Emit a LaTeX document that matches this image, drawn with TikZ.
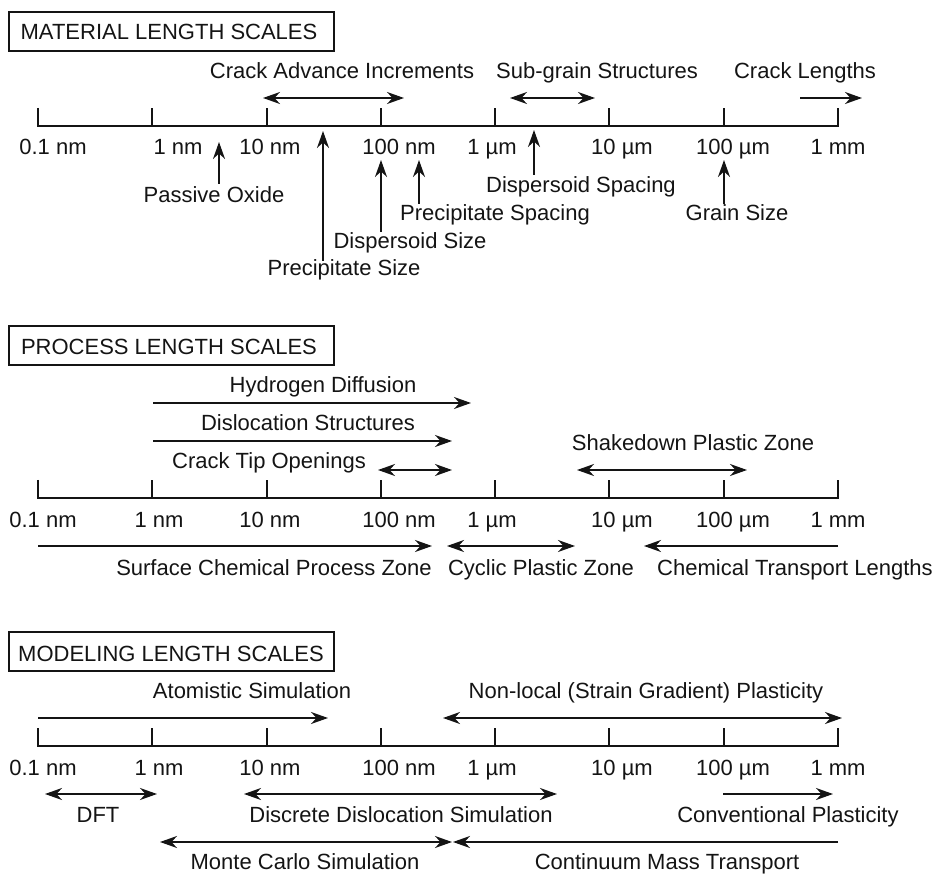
\documentclass[tikz,border=0pt]{standalone}
\usepackage{fontspec}
\setmainfont{Liberation Sans}
\usetikzlibrary{arrows.meta}
\definecolor{ink}{gray}{0.08}
\tikzset{
  lbl/.style={anchor=base, inner sep=0pt, text=ink, font=\fontsize{22}{26}\selectfont},
  titlebox/.style={draw=ink, line width=1.6pt, minimum width=325pt, minimum height=39pt, inner sep=0pt},
  axisline/.style={draw=ink, line width=1.9pt},
  oneway/.style={draw=ink, line width=1.9pt,
    arrows={-Stealth[length=17pt, width=12pt, inset=5.5pt]}},
  twoway/.style={draw=ink, line width=1.9pt,
    arrows={Stealth[length=17pt, width=12pt, inset=5.5pt]-Stealth[length=17pt, width=12pt, inset=5.5pt]}},
}
\begin{document}
\begin{tikzpicture}[x=1pt, y=-1pt]
\useasboundingbox (0,0) rectangle (935,874);

% ---------- section titles ----------
\node[titlebox] (tmat) at (171.5,31.5) {};
\node[lbl] (tmatt) at (169,40) {MATERIAL LENGTH SCALES};
\node[titlebox] (tpro) at (171.5,345.5) {};
\node[lbl] (tprot) at (169,355) {PROCESS LENGTH SCALES};
\node[titlebox] (tmod) at (171.5,651.5) {};
\node[lbl] (tmodt) at (171,661) {MODELING LENGTH SCALES};

% ---------- decade axes ----------
% tick x positions: 0.1 nm ... 1 mm
\def\tickxs{38,152.3,266.6,380.9,495.1,609.4,723.7,838}
\foreach \ay/\ty/\pre in {126/108/a, 498/480/b, 746/728/c}{
  \coordinate (\pre0) at (38,\ay);
  \coordinate (\pre7) at (838,\ay);
  \draw[axisline] (38,\ty) -- (\pre0) -- (\pre7) -- (838,\ty);
  \foreach \tx [count=\i from 0] in \tickxs {
    \coordinate (\pre t\i) at (\tx,\ay);
    \draw[axisline] (\pre t\i) -- (\tx,\ty);
  }
}

% tick labels
\foreach \lx/\txt [count=\i from 0] in {53/0.1 nm,178/1 nm,270/10 nm,399/100 nm,492/1 µm,622/10 µm,733/100 µm,838/1 mm}
  \node[lbl] (la\i) at (\lx,155) {\txt};
\foreach \lx/\txt [count=\i from 0] in {43/0.1 nm,159/1 nm,270/10 nm,399/100 nm,492/1 µm,622/10 µm,733/100 µm,838/1 mm}{
  \node[lbl] (lb\i) at (\lx,527) {\txt};
  \node[lbl] (lc\i) at (\lx,775) {\txt};
}

% ---------- material length scales ----------
\node[lbl] (crackadv) at (342,79) {Crack Advance Increments};
\coordinate (ca1) at (263,98); \coordinate (ca2) at (404,98);
\draw[twoway] (ca1) -- (ca2);

\node[lbl] (subgrain) at (597,79) {Sub-grain Structures};
\coordinate (sg1) at (510,98); \coordinate (sg2) at (595,98);
\draw[twoway] (sg1) -- (sg2);

\node[lbl] (cracklen) at (805,79) {Crack Lengths};
\coordinate (cl1) at (800,98); \coordinate (cl2) at (862,98);
\draw[oneway] (cl1) -- (cl2);

\node[lbl] (passive) at (214,203) {Passive Oxide};
\coordinate (po) at (219,142);
\draw[oneway] (219,184) -- (po);

\node[lbl] (precsize) at (344,276) {Precipitate Size};
\coordinate (ps) at (323,131);
\draw[oneway] (323,261) -- (ps);

\node[lbl] (dispsize) at (410,249) {Dispersoid Size};
\coordinate (ds) at (381,160);
\draw[oneway] (381,232) -- (ds);

\node[lbl] (precspac) at (495,221) {Precipitate Spacing};
\coordinate (pp) at (419,160);
\draw[oneway] (419,204) -- (pp);

\node[lbl] (dispspac) at (581,193) {Dispersoid Spacing};
\coordinate (dp) at (534,130);
\draw[oneway] (534,175) -- (dp);

\node[lbl] (grain) at (737,221) {Grain Size};
\coordinate (gs) at (724,160);
\draw[oneway] (724,204) -- (gs);

% ---------- process length scales ----------
\node[lbl] (hydro) at (323,393) {Hydrogen Diffusion};
\coordinate (hd1) at (153,403); \coordinate (hd2) at (471,403);
\draw[oneway] (hd1) -- (hd2);

\node[lbl] (disloc) at (308,431) {Dislocation Structures};
\coordinate (dl1) at (153,441); \coordinate (dl2) at (452,441);
\draw[oneway] (dl1) -- (dl2);

\node[lbl] (ctop) at (269,469) {Crack Tip Openings};
\coordinate (ct1) at (378,470); \coordinate (ct2) at (452,470);
\draw[twoway] (ct1) -- (ct2);

\node[lbl] (shake) at (693,451) {Shakedown Plastic Zone};
\coordinate (sd1) at (577,470); \coordinate (sd2) at (747,470);
\draw[twoway] (sd1) -- (sd2);

\node[lbl] (surf) at (274,575) {Surface Chemical Process Zone};
\coordinate (sc1) at (38,546); \coordinate (sc2) at (432,546);
\draw[oneway] (sc1) -- (sc2);

\node[lbl] (cyclic) at (541,575) {Cyclic Plastic Zone};
\coordinate (cp1) at (447,546); \coordinate (cp2) at (575,546);
\draw[twoway] (cp1) -- (cp2);

\node[lbl] (chemtr) at (795,575) {Chemical Transport Lengths};
\coordinate (tr1) at (838,546); \coordinate (tr2) at (644,546);
\draw[oneway] (tr1) -- (tr2);

% ---------- modeling length scales ----------
\node[lbl] (atom) at (252,698) {Atomistic Simulation};
\coordinate (at1) at (38,718); \coordinate (at2) at (328,718);
\draw[oneway] (at1) -- (at2);

\node[lbl] (nonloc) at (646,698) {Non-local (Strain Gradient) Plasticity};
\coordinate (nl1) at (443,718); \coordinate (nl2) at (842,718);
\draw[twoway] (nl1) -- (nl2);

\node[lbl] (dft) at (98,822) {DFT};
\coordinate (df1) at (45,794); \coordinate (df2) at (157,794);
\draw[twoway] (df1) -- (df2);

\node[lbl] (dds) at (401,822) {Discrete Dislocation Simulation};
\coordinate (dd1) at (244,794); \coordinate (dd2) at (557,794);
\draw[twoway] (dd1) -- (dd2);

\node[lbl] (conv) at (788,822) {Conventional Plasticity};
\coordinate (cv1) at (723,794); \coordinate (cv2) at (833,794);
\draw[oneway] (cv1) -- (cv2);

\node[lbl] (monte) at (305,869) {Monte Carlo Simulation};
\coordinate (mc1) at (160,842); \coordinate (mc2) at (452,842);
\draw[twoway] (mc1) -- (mc2);

\node[lbl] (contin) at (667,869) {Continuum Mass Transport};
\coordinate (cm1) at (838,842); \coordinate (cm2) at (453,842);
\draw[oneway] (cm1) -- (cm2);
\end{tikzpicture}
\end{document}
